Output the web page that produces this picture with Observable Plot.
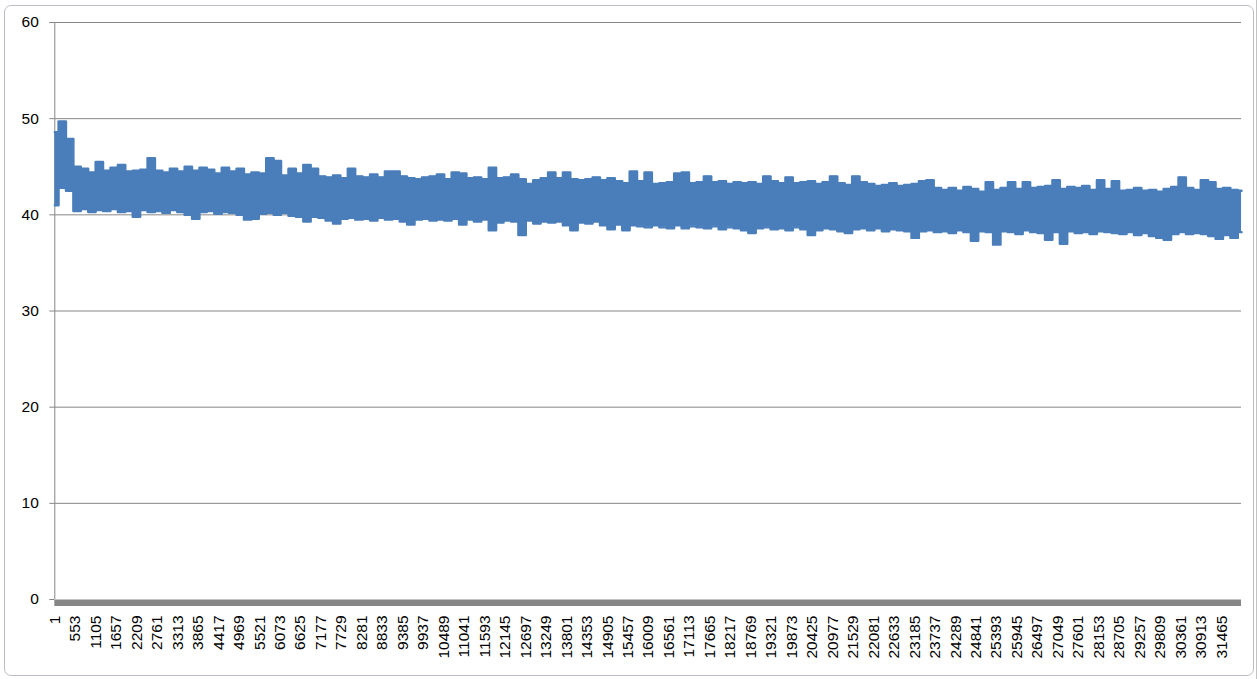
<!DOCTYPE html>
<html>
<head>
<meta charset="utf-8">
<script src="https://cdn.jsdelivr.net/npm/d3@7"></script>
<script src="https://cdn.jsdelivr.net/npm/@observablehq/plot@0.6"></script>
<style>
  html, body { margin: 0; padding: 0; background: #ffffff; }
  #sheet { position: relative; width: 1259px; height: 679px; overflow: hidden; background: #ffffff; }
  #frame { position: absolute; left: 4px; top: 5px; width: 1248px; height: 669px; border: 1px solid #b9bec4; border-radius: 7px; background: #ffffff; }
  #edge { position: absolute; left: 1256px; top: 0; width: 1px; height: 679px; background: #c4c4c4; }
  #chart { position: absolute; left: 0; top: 0; }
  #chart svg text { font-family: "Liberation Sans", Arial, sans-serif !important; font-size: 15.5px !important; fill: #000; }
</style>
</head>
<body>
<div id="sheet">
  <div id="frame"></div>
  <div id="edge"></div>
  <div id="chart"></div>
</div>
<script>
// Category tick labels on the x axis (every 552nd point)
const tickLabels = [1,553,1105,1657,2209,2761,3313,3865,4417,4969,5521,6073,6625,7177,7729,8281,8833,9385,9937,10489,11041,11593,12145,12697,13249,13801,14353,14905,15457,16009,16561,17113,17665,18217,18769,19321,19873,20425,20977,21529,22081,22633,23185,23737,24289,24841,25393,25945,26497,27049,27601,28153,28705,29257,29809,30361,30913,31465];

// Y axis ticks
const yTicks = [0, 10, 20, 30, 40, 50, 60];

// Series: one sample every 200 points,
// upper and lower extent of the noisy trace in that stretch.
const sampleFirst = 1;
const sampleStep = 200;
const seriesHigh = [
  48.6,49.7,47.9,45.0,44.8,44.4,45.5,44.6,44.9,45.2,
  44.5,44.6,44.7,45.9,44.6,44.4,44.8,44.5,45.0,44.6,
  44.9,44.7,44.3,44.9,44.5,44.8,44.2,44.4,44.3,45.9,
  45.6,44.1,44.8,44.3,45.2,44.8,44.0,43.9,44.1,43.8,
  44.8,44.0,43.9,44.2,43.9,44.5,44.5,44.0,43.8,43.7,
  43.9,44.0,44.2,43.7,44.4,44.3,43.8,43.9,43.7,44.9,
  43.8,43.9,44.2,43.7,43.2,43.6,43.8,44.4,43.8,44.4,
  43.7,43.6,43.7,43.9,43.6,43.8,43.5,43.3,44.5,43.5,
  44.4,43.2,43.3,43.4,44.3,44.4,43.3,43.4,44.0,43.4,
  43.5,43.2,43.4,43.3,43.4,43.2,44.0,43.5,43.3,43.9,
  43.3,43.4,43.5,43.2,43.4,44.0,43.3,43.1,44.0,43.4,
  43.2,43.0,43.1,43.3,43.0,43.1,43.2,43.5,43.6,42.8,
  42.6,42.8,42.5,42.9,42.7,42.4,43.4,42.6,42.8,43.4,
  42.7,43.4,42.8,42.9,43.0,43.6,42.7,42.9,42.8,43.0,
  42.6,43.6,42.7,43.5,42.5,42.6,42.8,42.5,42.6,42.4,
  42.7,42.9,43.9,42.8,42.6,43.6,43.4,42.7,42.8,42.6,
  42.5
];
const seriesLow = [
  41.0,42.8,42.5,40.4,40.6,40.3,40.5,40.4,40.6,40.3,
  40.4,39.8,40.5,40.3,40.4,40.2,40.5,40.3,40.0,39.6,
  40.3,40.4,40.1,40.3,40.2,40.0,39.5,39.6,40.1,40.2,
  40.0,40.2,39.9,39.8,39.3,39.8,39.7,39.4,39.1,39.6,
  39.7,39.5,39.6,39.4,39.7,39.5,39.6,39.3,39.0,39.5,
  39.6,39.4,39.5,39.4,39.6,39.0,39.5,39.3,39.5,38.4,
  39.2,39.4,39.3,37.9,39.4,39.1,39.3,39.2,39.3,38.9,
  38.4,39.2,39.1,39.3,38.9,38.5,39.0,38.4,38.9,38.8,
  38.7,38.9,38.7,38.6,38.9,38.6,38.8,38.7,38.6,38.8,
  38.5,38.7,38.6,38.4,38.1,38.6,38.7,38.5,38.6,38.4,
  38.7,38.5,37.9,38.4,38.6,38.5,38.3,38.1,38.5,38.6,
  38.4,38.6,38.3,38.5,38.4,38.3,37.6,38.3,38.4,38.2,
  38.3,38.1,38.4,38.2,37.3,38.3,38.2,36.9,38.3,38.2,
  38.0,38.4,38.2,38.1,37.4,38.2,37.0,38.3,38.1,38.2,
  38.0,38.3,38.2,38.1,38.0,38.2,37.9,38.1,37.8,37.6,
  37.4,38.0,38.2,38.0,38.1,38.0,37.8,37.5,37.9,37.6,
  38.2
];

const rows = seriesHigh.map((h, k) => ({
  idx: sampleFirst + k * sampleStep,
  high: h,
  low: seriesLow[k]
}));

const blue = "#4a7ebb";
const gray = "#868686";

const chart = Plot.plot({
  width: 1259,
  height: 679,
  marginLeft: 54.3,
  marginRight: 18,
  marginTop: 22,
  marginBottom: 80,
  style: { fontFamily: "'Liberation Sans', Arial, sans-serif", fontSize: "15px", color: "#000", background: "transparent" },
  x: { type: "linear", domain: [0, 32000] },
  y: { type: "linear", domain: [0, 60] },
  marks: [
    Plot.gridY(yTicks.filter(d => d > 0), { stroke: gray, strokeOpacity: 1, strokeWidth: 1 }),
    Plot.ruleX([0], { stroke: gray, strokeWidth: 1 }),
    Plot.areaY(rows, { x: "idx", y1: "low", y2: "high", curve: "step", fill: blue }),
    Plot.lineY(rows, { x: "idx", y: "high", curve: "step", stroke: blue, strokeWidth: 2.4, strokeLinejoin: "round", strokeLinecap: "round" }),
    Plot.lineY(rows, { x: "idx", y: "low", curve: "step", stroke: blue, strokeWidth: 2.4, strokeLinejoin: "round", strokeLinecap: "round" }),
    Plot.ruleY([0], { stroke: "#878787", strokeWidth: 6.5, dy: 3.2 }),
    Plot.axisY({ ticks: yTicks, tickSize: 5, tickPadding: 11, stroke: gray, strokeOpacity: 1, label: null, tickFormat: d => String(d) }),
    Plot.axisX({ ticks: tickLabels, tickSize: 0, tickPadding: 16, tickRotate: -90, label: null, tickFormat: d => String(d) })
  ]
});
document.getElementById("chart").appendChild(chart);
</script>
</body>
</html>
